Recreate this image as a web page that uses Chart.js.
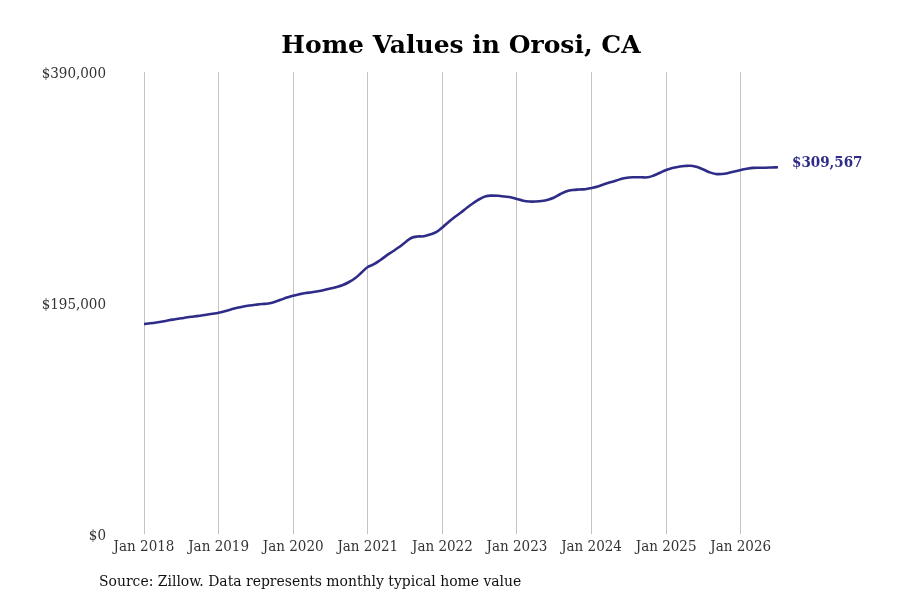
<!DOCTYPE html>
<html>
<head>
<meta charset="utf-8">
<script src="https://cdn.jsdelivr.net/npm/chart.js@4.4.1/dist/chart.umd.min.js"></script>
<style>
	html, body { margin: 0; padding: 0; background: #fff; }
	#wrap { width: 900px; height: 600px; position: relative; }
</style>
</head>
<body>
<div id="wrap"><canvas id="grafico"></canvas></div>
<script>
// Dados (valor mensal, jan 2018 -> jul 2026)
const titulo = "Home Values in Orosi, CA";
const fonte = "Source: Zillow. Data represents monthly typical home value";
const rotulosAno = ["Jan 2018", "Jan 2019", "Jan 2020", "Jan 2021", "Jan 2022", "Jan 2023", "Jan 2024", "Jan 2025", "Jan 2026"];
const posicoesAno = [0, 12, 24, 36, 48, 60, 72, 84, 96];
const ticksY = [0, 195000, 390000];
const valores = [
	177300, 177860, 178540, 179380, 180400, 181240, 182080, 182930, 183600, 184280, 185040, 185880,
	186810, 188080, 189520, 190950, 192050, 192890, 193570, 194160, 194580, 195840, 197700, 199640,
	201160, 202430, 203440, 204030, 204880, 205970, 207240, 208510, 210200, 212730, 216100, 220750,
	225390, 227750, 231130, 235010, 238470, 242020, 246070, 249870, 251140, 251310, 252830, 254770,
	258740, 263380, 267600, 271400, 275620, 279420, 282790, 285160, 285660, 285490, 284900, 284310,
	282790, 281360, 280680, 280680, 281110, 282200, 284060, 287020, 289300, 290390, 290810, 291070,
	292080, 293350, 295200, 296890, 298410, 300100, 300940, 301110, 301110, 301110, 302630, 304910,
	307270, 308960, 309980, 310650, 310820, 309810, 307700, 305330, 303900, 303900, 304740, 306010,
	307270, 308290, 309050, 309220, 309220, 309390, 309567
];

const corLinha = "#2e2c87";
const serifCond = "'DejaVu Serif Condensed', 'DejaVu Serif', serif";

function formatarDolar(v) {
	return "$" + Math.round(v).toLocaleString("en-US");
}

// Título centrado na área do gráfico, rótulo do último valor e nota da fonte
const pluginExtras = {
	id: "extras",
	afterDraw(chart) {
		const ctx = chart.ctx;
		const area = chart.chartArea;
		const meta = chart.getDatasetMeta(0);
		const ultimo = meta.data[meta.data.length - 1];
		ctx.save();
		ctx.font = "bold 25px 'DejaVu Serif', serif";
		ctx.fillStyle = "#000";
		ctx.textAlign = "center";
		ctx.textBaseline = "alphabetic";
		ctx.fillText(titulo, (area.left + area.right) / 2, 53);

		ctx.font = "bold 15px " + serifCond;
		ctx.fillStyle = corLinha;
		ctx.textAlign = "left";
		ctx.textBaseline = "middle";
		ctx.fillText(formatarDolar(valores[valores.length - 1]), ultimo.x + 14, ultimo.y - 4);

		ctx.font = "15.5px " + serifCond;
		ctx.fillStyle = "#111";
		ctx.fillText(fonte, 99, 582);
		ctx.restore();
	}
};

const ctx = document.getElementById("grafico").getContext("2d");
new Chart(ctx, {
	type: "line",
	data: {
		datasets: [
			{
				data: valores.map((v, i) => ({ x: i, y: v })),
				borderColor: corLinha,
				borderWidth: 2.6,
				pointRadius: 0,
				tension: 0.4,
				fill: false
			}
		]
	},
	options: {
		responsive: true,
		maintainAspectRatio: false,
		animation: false,
		layout: { padding: { left: 0, right: 122, top: 72, bottom: 42 } },
		plugins: {
			legend: { display: false },
			tooltip: { enabled: false },
			title: { display: false }
		},
		scales: {
			x: {
				type: "linear",
				min: 0,
				max: valores.length - 1,
				afterBuildTicks: (scale) => {
					scale.ticks = posicoesAno.map((v) => ({ value: v }));
				},
				afterFit: (scale) => {
					scale.height = 24;
				},
				ticks: {
					autoSkip: false,
					maxRotation: 0,
					padding: 4,
					color: "#333",
					font: { family: serifCond, size: 15 },
					callback: (v) => rotulosAno[posicoesAno.indexOf(v)]
				},
				grid: { color: "#c4c4c4", lineWidth: 1, drawTicks: false },
				border: { display: false }
			},
			y: {
				min: 0,
				max: 390000,
				afterBuildTicks: (scale) => {
					scale.ticks = ticksY.map((v) => ({ value: v }));
				},
				afterFit: (scale) => {
					scale.width = 144;
				},
				ticks: {
					padding: 38,
					labelOffset: 2,
					color: "#333",
					font: { family: serifCond, size: 15 },
					callback: (v) => formatarDolar(v)
				},
				grid: { display: false, drawTicks: false },
				border: { display: false }
			}
		}
	},
	plugins: [pluginExtras]
});
</script>
</body>
</html>
